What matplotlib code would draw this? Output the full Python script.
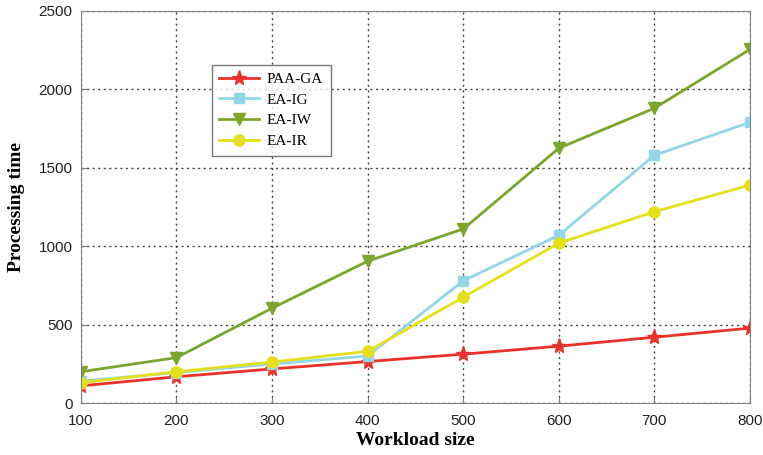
import matplotlib.pyplot as plt

# Workload sizes and processing time per algorithm
workload = [100, 200, 300, 400, 500, 600, 700, 800]
paa_ga = [110, 168, 218, 265, 312, 363, 420, 478]
ea_ig = [140, 195, 250, 300, 780, 1070, 1580, 1790]
ea_iw = [200, 290, 605, 905, 1110, 1625, 1880, 2255]
ea_ir = [130, 200, 262, 330, 675, 1020, 1220, 1390]

fig = plt.figure(figsize=(7.63, 4.55), dpi=100)
ax = fig.add_axes([0.106, 0.114, 0.877, 0.862])

ax.plot(workload, paa_ga, color='#e8322b', marker='*', markersize=11, lw=2, label='PAA-GA')
ax.plot(workload, ea_ig, color='#93d6e8', marker='s', markersize=7, lw=2, label='EA-IG')
ax.plot(workload, ea_iw, color='#7ba52c', marker='v', markersize=9, lw=2, label='EA-IW')
ax.plot(workload, ea_ir, color='#e5e01c', marker='o', markersize=8, lw=2, label='EA-IR')

ax.set_xlim(100, 800)
ax.set_ylim(0, 2500)
ax.set_xticks(workload)
ax.set_yticks([0, 500, 1000, 1500, 2000, 2500])
ax.grid(True, linestyle=(0, (1.5, 2.5)), color='#444444', lw=1)

for s in ax.spines.values():
    s.set_color('#808080')
ax.tick_params(direction='in', colors='#808080', labelcolor='#222222', labelsize=11, length=4)
ax.tick_params(axis='x', pad=8)
ax.tick_params(axis='y', pad=6)
for lbl in ax.get_xticklabels() + ax.get_yticklabels():
    lbl.set_fontfamily('Liberation Sans')

ax.set_xlabel('Workload size', fontfamily='Liberation Serif', fontweight='bold', fontsize=14, labelpad=3)
ax.set_ylabel('Processing time', fontfamily='Liberation Serif', fontweight='bold', fontsize=14, labelpad=10)

leg = ax.legend(loc='upper left', bbox_to_anchor=(0.184, 0.882), fancybox=False,
                prop={'family': 'Liberation Serif', 'size': 11}, handlelength=2.6,
                borderpad=0.5, labelspacing=0.45, handletextpad=0.5)
leg.get_frame().set_edgecolor('#555555')
leg.get_frame().set_linewidth(1)

fig.savefig('out.png', dpi=100)
